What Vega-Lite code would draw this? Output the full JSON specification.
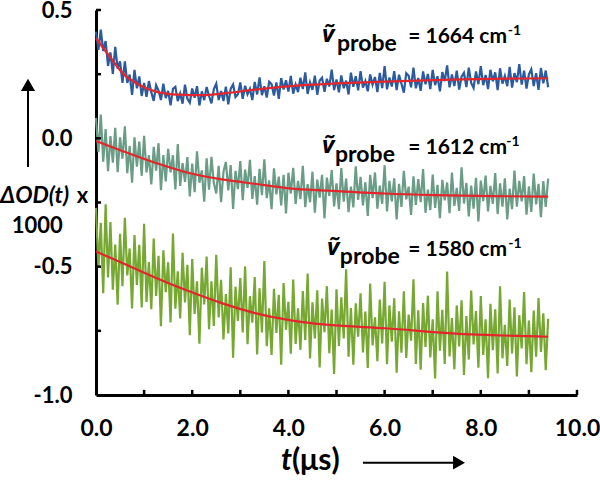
{
  "$schema": "https://vega.github.io/schema/vega-lite/v6.json",
  "width": 481,
  "height": 385,
  "autosize": {"type": "none"},
  "padding": {"left": 96, "top": 10, "right": 23, "bottom": 85},
  "config": {"view": {"stroke": null}, "font": "Lato"},
  "datasets": {
    "traces": [
      {"t":0,"a":0.416,"b":0.080,"c":-0.271},{"t":0.05,"a":0.345,"b":-0.054,"c":-0.505},{"t":0.1,"a":0.424,"b":0.093,"c":-0.329},{"t":0.15,"a":0.340,"b":-0.091,"c":-0.603},{"t":0.2,"a":0.379,"b":0.036,"c":-0.257},
      {"t":0.25,"a":0.282,"b":-0.128,"c":-0.542},{"t":0.3,"a":0.335,"b":0.009,"c":-0.326},{"t":0.35,"a":0.251,"b":-0.095,"c":-0.590},{"t":0.4,"a":0.356,"b":0.041,"c":-0.414},{"t":0.45,"a":0.272,"b":-0.132,"c":-0.648},
      {"t":0.5,"a":0.300,"b":0.004,"c":-0.372},{"t":0.55,"a":0.216,"b":-0.079,"c":-0.576},{"t":0.6,"a":0.300,"b":0.047,"c":-0.310},{"t":0.65,"a":0.216,"b":-0.136,"c":-0.534},{"t":0.7,"a":0.248,"b":-0.030,"c":-0.429},
      {"t":0.75,"a":0.169,"b":-0.173,"c":-0.663},{"t":0.8,"a":0.267,"b":0.004,"c":-0.377},{"t":0.85,"a":0.195,"b":-0.110,"c":-0.571},{"t":0.9,"a":0.241,"b":-0.013,"c":-0.415},{"t":0.95,"a":0.165,"b":-0.146,"c":-0.659},
      {"t":1.0,"a":0.216,"b":0.010,"c":-0.333},{"t":1.05,"a":0.162,"b":-0.133,"c":-0.638},{"t":1.1,"a":0.223,"b":-0.066,"c":-0.482},{"t":1.15,"a":0.179,"b":-0.180,"c":-0.666},{"t":1.2,"a":0.146,"b":-0.033,"c":-0.390},
      {"t":1.25,"a":0.207,"b":-0.126,"c":-0.614},{"t":1.3,"a":0.186,"b":-0.019,"c":-0.458},{"t":1.35,"a":0.149,"b":-0.202,"c":-0.732},{"t":1.4,"a":0.213,"b":-0.065,"c":-0.436},{"t":1.45,"a":0.157,"b":-0.168,"c":-0.599},
      {"t":1.5,"a":0.185,"b":-0.041,"c":-0.483},{"t":1.55,"a":0.129,"b":-0.133,"c":-0.717},{"t":1.6,"a":0.193,"b":-0.066,"c":-0.371},{"t":1.65,"a":0.201,"b":-0.199,"c":-0.664},{"t":1.7,"a":0.145,"b":-0.022,"c":-0.518},
      {"t":1.75,"a":0.175,"b":-0.185,"c":-0.702},{"t":1.8,"a":0.135,"b":-0.097,"c":-0.446},{"t":1.85,"a":0.209,"b":-0.170,"c":-0.639},{"t":1.9,"a":0.154,"b":-0.073,"c":-0.493},{"t":1.95,"a":0.139,"b":-0.226,"c":-0.767},
      {"t":2.0,"a":0.194,"b":-0.098,"c":-0.470},{"t":2.05,"a":0.158,"b":-0.210,"c":-0.684},{"t":2.1,"a":0.203,"b":-0.051,"c":-0.557},{"t":2.15,"a":0.128,"b":-0.173,"c":-0.800},{"t":2.2,"a":0.183,"b":-0.125,"c":-0.504},
      {"t":2.25,"a":0.149,"b":-0.247,"c":-0.647},{"t":2.3,"a":0.200,"b":-0.078,"c":-0.461},{"t":2.35,"a":0.165,"b":-0.200,"c":-0.744},{"t":2.4,"a":0.136,"b":-0.072,"c":-0.557},{"t":2.45,"a":0.192,"b":-0.174,"c":-0.731},
      {"t":2.5,"a":0.213,"b":-0.215,"c":-0.454},{"t":2.55,"a":0.149,"b":-0.107,"c":-0.698},{"t":2.6,"a":0.184,"b":-0.249,"c":-0.551},{"t":2.65,"a":0.145,"b":-0.130,"c":-0.784},{"t":2.7,"a":0.201,"b":-0.092,"c":-0.607},
      {"t":2.75,"a":0.132,"b":-0.203,"c":-0.760},{"t":2.8,"a":0.193,"b":-0.104,"c":-0.502},{"t":2.85,"a":0.210,"b":-0.275,"c":-0.855},{"t":2.9,"a":0.161,"b":-0.127,"c":-0.578},{"t":2.95,"a":0.172,"b":-0.198,"c":-0.711},
      {"t":3.0,"a":0.218,"b":-0.089,"c":-0.544},{"t":3.05,"a":0.154,"b":-0.241,"c":-0.756},{"t":3.1,"a":0.205,"b":-0.122,"c":-0.499},{"t":3.15,"a":0.172,"b":-0.193,"c":-0.802},{"t":3.2,"a":0.193,"b":-0.084,"c":-0.615},
      {"t":3.25,"a":0.149,"b":-0.236,"c":-0.718},{"t":3.3,"a":0.220,"b":-0.147,"c":-0.540},{"t":3.35,"a":0.171,"b":-0.258,"c":-0.842},{"t":3.4,"a":0.237,"b":-0.119,"c":-0.584},{"t":3.45,"a":0.168,"b":-0.221,"c":-0.756},
      {"t":3.5,"a":0.203,"b":-0.082,"c":-0.478},{"t":3.55,"a":0.159,"b":-0.233,"c":-0.810},{"t":3.6,"a":0.220,"b":-0.164,"c":-0.662},{"t":3.65,"a":0.211,"b":-0.276,"c":-0.844},{"t":3.7,"a":0.167,"b":-0.117,"c":-0.586},
      {"t":3.75,"a":0.218,"b":-0.218,"c":-0.758},{"t":3.8,"a":0.154,"b":-0.149,"c":-0.610},{"t":3.85,"a":0.235,"b":-0.261,"c":-0.882},{"t":3.9,"a":0.190,"b":-0.142,"c":-0.564},{"t":3.95,"a":0.226,"b":-0.293,"c":-0.746},
      {"t":4.0,"a":0.182,"b":-0.134,"c":-0.637},{"t":4.05,"a":0.243,"b":-0.215,"c":-0.839},{"t":4.1,"a":0.174,"b":-0.115,"c":-0.550},{"t":4.15,"a":0.210,"b":-0.256,"c":-0.801},{"t":4.2,"a":0.180,"b":-0.166,"c":-0.662},
      {"t":4.25,"a":0.236,"b":-0.237,"c":-0.824},{"t":4.3,"a":0.192,"b":-0.107,"c":-0.595},{"t":4.35,"a":0.257,"b":-0.268,"c":-0.786},{"t":4.4,"a":0.173,"b":-0.178,"c":-0.527},{"t":4.45,"a":0.218,"b":-0.249,"c":-0.858},
      {"t":4.5,"a":0.189,"b":-0.130,"c":-0.639},{"t":4.55,"a":0.244,"b":-0.290,"c":-0.780},{"t":4.6,"a":0.170,"b":-0.161,"c":-0.592},{"t":4.65,"a":0.225,"b":-0.231,"c":-0.893},{"t":4.7,"a":0.236,"b":-0.142,"c":-0.624},
      {"t":4.75,"a":0.181,"b":-0.312,"c":-0.755},{"t":4.8,"a":0.232,"b":-0.153,"c":-0.576},{"t":4.85,"a":0.202,"b":-0.224,"c":-0.837},{"t":4.9,"a":0.268,"b":-0.124,"c":-0.667},{"t":4.95,"a":0.188,"b":-0.265,"c":-0.918},
      {"t":5.0,"a":0.229,"b":-0.175,"c":-0.588},{"t":5.05,"a":0.179,"b":-0.276,"c":-0.809},{"t":5.1,"a":0.245,"b":-0.116,"c":-0.619},{"t":5.15,"a":0.195,"b":-0.247,"c":-0.780},{"t":5.2,"a":0.225,"b":-0.157,"c":-0.510},
      {"t":5.25,"a":0.171,"b":-0.288,"c":-0.851},{"t":5.3,"a":0.256,"b":-0.188,"c":-0.661},{"t":5.35,"a":0.201,"b":-0.269,"c":-0.882},{"t":5.4,"a":0.242,"b":-0.109,"c":-0.643},{"t":5.45,"a":0.187,"b":-0.240,"c":-0.773},
      {"t":5.5,"a":0.262,"b":-0.150,"c":-0.604},{"t":5.55,"a":0.198,"b":-0.261,"c":-0.834},{"t":5.6,"a":0.223,"b":-0.171,"c":-0.675},{"t":5.65,"a":0.183,"b":-0.302,"c":-0.895},{"t":5.7,"a":0.249,"b":-0.142,"c":-0.566},
      {"t":5.75,"a":0.209,"b":-0.233,"c":-0.807},{"t":5.8,"a":0.239,"b":-0.133,"c":-0.697},{"t":5.85,"a":0.180,"b":-0.274,"c":-0.868},{"t":5.9,"a":0.255,"b":-0.184,"c":-0.628},{"t":5.95,"a":0.196,"b":-0.255,"c":-0.799},
      {"t":6.0,"a":0.281,"b":-0.105,"c":-0.559},{"t":6.05,"a":0.191,"b":-0.285,"c":-0.880},{"t":6.1,"a":0.237,"b":-0.166,"c":-0.651},{"t":6.15,"a":0.202,"b":-0.246,"c":-0.792},{"t":6.2,"a":0.262,"b":-0.156,"c":-0.623},
      {"t":6.25,"a":0.188,"b":-0.316,"c":-0.913},{"t":6.3,"a":0.248,"b":-0.177,"c":-0.674},{"t":6.35,"a":0.213,"b":-0.267,"c":-0.835},{"t":6.4,"a":0.178,"b":-0.127,"c":-0.596},{"t":6.45,"a":0.254,"b":-0.238,"c":-0.856},
      {"t":6.5,"a":0.244,"b":-0.188,"c":-0.687},{"t":6.55,"a":0.199,"b":-0.298,"c":-0.788},{"t":6.6,"a":0.275,"b":-0.148,"c":-0.549},{"t":6.65,"a":0.195,"b":-0.259,"c":-0.879},{"t":6.7,"a":0.235,"b":-0.159,"c":-0.670},
      {"t":6.75,"a":0.185,"b":-0.249,"c":-0.901},{"t":6.8,"a":0.261,"b":-0.120,"c":-0.642},{"t":6.85,"a":0.211,"b":-0.290,"c":-0.813},{"t":6.9,"a":0.251,"b":-0.200,"c":-0.613},{"t":6.95,"a":0.192,"b":-0.280,"c":-0.854},
      {"t":7.0,"a":0.267,"b":-0.141,"c":-0.705},{"t":7.05,"a":0.207,"b":-0.271,"c":-0.936},{"t":7.1,"a":0.242,"b":-0.181,"c":-0.596},{"t":7.15,"a":0.183,"b":-0.311,"c":-0.827},{"t":7.2,"a":0.258,"b":-0.162,"c":-0.668},
      {"t":7.25,"a":0.223,"b":-0.242,"c":-0.879},{"t":7.3,"a":0.284,"b":-0.172,"c":-0.519},{"t":7.35,"a":0.199,"b":-0.292,"c":-0.850},{"t":7.4,"a":0.249,"b":-0.133,"c":-0.700},{"t":7.45,"a":0.204,"b":-0.263,"c":-0.900},
      {"t":7.5,"a":0.264,"b":-0.193,"c":-0.651},{"t":7.55,"a":0.190,"b":-0.283,"c":-0.811},{"t":7.6,"a":0.240,"b":-0.113,"c":-0.631},{"t":7.65,"a":0.255,"b":-0.254,"c":-0.922},{"t":7.7,"a":0.200,"b":-0.174,"c":-0.692},
      {"t":7.75,"a":0.275,"b":-0.304,"c":-0.862},{"t":7.8,"a":0.216,"b":-0.184,"c":-0.593},{"t":7.85,"a":0.196,"b":-0.274,"c":-0.803},{"t":7.9,"a":0.261,"b":-0.154,"c":-0.673},{"t":7.95,"a":0.211,"b":-0.324,"c":-0.894},
      {"t":8.0,"a":0.281,"b":-0.165,"c":-0.614},{"t":8.05,"a":0.207,"b":-0.245,"c":-0.844},{"t":8.1,"a":0.247,"b":-0.145,"c":-0.705},{"t":8.15,"a":0.192,"b":-0.285,"c":-0.935},{"t":8.2,"a":0.267,"b":-0.185,"c":-0.645},
      {"t":8.25,"a":0.222,"b":-0.255,"c":-0.825},{"t":8.3,"a":0.257,"b":-0.135,"c":-0.666},{"t":8.35,"a":0.188,"b":-0.295,"c":-0.916},{"t":8.4,"a":0.273,"b":-0.175,"c":-0.576},{"t":8.45,"a":0.213,"b":-0.266,"c":-0.857},
      {"t":8.5,"a":0.243,"b":-0.156,"c":-0.727},{"t":8.55,"a":0.203,"b":-0.316,"c":-0.887},{"t":8.6,"a":0.278,"b":-0.196,"c":-0.628},{"t":8.65,"a":0.198,"b":-0.276,"c":-0.838},{"t":8.7,"a":0.254,"b":-0.126,"c":-0.658},
      {"t":8.75,"a":0.219,"b":-0.266,"c":-0.928},{"t":8.8,"a":0.289,"b":-0.166,"c":-0.689},{"t":8.85,"a":0.209,"b":-0.246,"c":-0.819},{"t":8.9,"a":0.264,"b":-0.147,"c":-0.599},{"t":8.95,"a":0.194,"b":-0.297,"c":-0.880},
      {"t":9.0,"a":0.249,"b":-0.187,"c":-0.710},{"t":9.05,"a":0.269,"b":-0.287,"c":-0.911},{"t":9.1,"a":0.204,"b":-0.137,"c":-0.671},{"t":9.15,"a":0.254,"b":-0.257,"c":-0.851},{"t":9.2,"a":0.189,"b":-0.177,"c":-0.622},
      {"t":9.25,"a":0.274,"b":-0.307,"c":-0.832},{"t":9.3,"a":0.214,"b":-0.167,"c":-0.682},{"t":9.35,"a":0.264,"b":-0.267,"c":-0.903},{"t":9.4,"a":0.199,"b":-0.157,"c":-0.703}
    ],
    "fits": [
      {"s":"a","t":0,"v":0.39},{"s":"a","t":0.3,"v":0.315},{"s":"a","t":0.55,"v":0.255},{"s":"a","t":0.9,"v":0.208},{"s":"a","t":1.25,"v":0.182},{"s":"a","t":1.7,"v":0.17},{"s":"a","t":2.2,"v":0.168},{"s":"a","t":2.7,"v":0.176},{"s":"a","t":3.3,"v":0.19},{"s":"a","t":4.3,"v":0.207},{"s":"a","t":5.0,"v":0.214},{"s":"a","t":6.0,"v":0.221},{"s":"a","t":7.4,"v":0.229},{"s":"a","t":9.4,"v":0.234},
      {"s":"b","t":0,"v":-0.01},{"s":"b","t":0.56,"v":-0.05},{"s":"b","t":1.26,"v":-0.097},{"s":"b","t":1.95,"v":-0.136},{"s":"b","t":2.63,"v":-0.16},{"s":"b","t":3.33,"v":-0.178},{"s":"b","t":4.02,"v":-0.195},{"s":"b","t":4.85,"v":-0.204},{"s":"b","t":6.0,"v":-0.215},{"s":"b","t":7.05,"v":-0.221},{"s":"b","t":8.2,"v":-0.225},{"s":"b","t":9.4,"v":-0.227},
      {"s":"c","t":0,"v":-0.441},{"s":"c","t":0.56,"v":-0.487},{"s":"c","t":1.26,"v":-0.545},{"s":"c","t":1.95,"v":-0.597},{"s":"c","t":2.63,"v":-0.643},{"s":"c","t":3.33,"v":-0.682},{"s":"c","t":4.02,"v":-0.708},{"s":"c","t":4.85,"v":-0.727},{"s":"c","t":6.02,"v":-0.74},{"s":"c","t":7.4,"v":-0.76},{"s":"c","t":9.4,"v":-0.773}
    ],
    "xticks": [
      {"t":1,"v":-1,"v2":-0.98},{"t":2,"v":-1,"v2":-0.98},{"t":3,"v":-1,"v2":-0.98},{"t":4,"v":-1,"v2":-0.98},{"t":5,"v":-1,"v2":-0.98},
      {"t":6,"v":-1,"v2":-0.98},{"t":7,"v":-1,"v2":-0.98},{"t":8,"v":-1,"v2":-0.98},{"t":9,"v":-1,"v2":-0.98},{"t":10,"v":-1,"v2":-0.98}
    ],
    "yticks": [
      {"t":0,"t2":0.105,"v":-0.75},{"t":0,"t2":0.105,"v":-0.5},{"t":0,"t2":0.105,"v":-0.25},{"t":0,"t2":0.105,"v":0},
      {"t":0,"t2":0.105,"v":0.25},{"t":0,"t2":0.105,"v":0.5}
    ],
    "nu": [
      {"t":4.70,"v":0.3753,"txt":"ṽ"},{"t":4.70,"v":-0.0571,"txt":"ṽ"},{"t":4.80,"v":-0.4544,"txt":"ṽ"}
    ],
    "probe": [
      {"t":5.01,"v":0.3403,"txt":"probe"},{"t":4.97,"v":-0.0921,"txt":"probe"},{"t":5.07,"v":-0.4895,"txt":"probe"}
    ],
    "main": [
      {"t":6.49,"v":0.3714,"txt":"= 1664 cm"},{"t":6.49,"v":-0.0610,"txt":"= 1612 cm"},{"t":6.49,"v":-0.4583,"txt":"= 1580 cm"}
    ],
    "sup": [
      {"t":8.56,"v":0.4026,"txt":"-1"},{"t":8.53,"v":-0.0298,"txt":"-1"},{"t":8.57,"v":-0.4272,"txt":"-1"}
    ],
    "arrows": [
      {"t":-1.414,"v":-0.1116,"t2":-1.414,"v2":0.185},
      {"t":5.55,"v":-1.2636,"t2":7.45,"v2":-1.2636}
    ],
    "ytitle_italic": [{"t":-1.996,"v":-0.2519,"txt":"ΔOD(t)"}],
    "ytitle_plain": [{"t":-0.40,"v":-0.2519,"txt":"x"},{"t":-1.75,"v":-0.3687,"txt":"1000"}]
  },
  "layer": [
    {
      "data": {"name": "traces"},
      "transform": [{"fold": ["a", "b", "c"], "as": ["series", "v"]}],
      "mark": {"type": "line", "strokeWidth": 2.2, "clip": false},
      "encoding": {
        "x": {
          "field": "t", "type": "quantitative",
          "scale": {"domain": [0, 10], "nice": false, "zero": false},
          "axis": {
            "title": null,
            "values": [0,1,2,3,4,5,6,7,8,9,10],
            "labelExpr": "datum.value % 2 == 0 ? format(datum.value, '.1f') : ''",
            "grid": false, "ticks": false,
            "domainColor": "black", "domainWidth": 3,
            "labelFont": "Lato", "labelFontWeight": "bold", "labelFontSize": 23, "labelColor": "black",
            "labelPadding": 22, "labelOverlap": false, "labelFlush": false
          }
        },
        "y": {
          "field": "v", "type": "quantitative",
          "scale": {"domain": [-1, 0.5], "nice": false, "zero": false},
          "axis": {
            "title": null,
            "values": [-1, -0.5, 0, 0.5],
            "labelExpr": "replace(format(datum.value, '.1f'), '−', '-')",
            "grid": false, "ticks": false,
            "domainColor": "black", "domainWidth": 3,
            "labelFont": "Lato", "labelFontWeight": "bold", "labelFontSize": 22, "labelColor": "black",
            "labelPadding": 24, "labelOverlap": false, "labelFlush": false
          }
        },
        "color": {
          "field": "series", "type": "nominal",
          "scale": {"domain": ["a", "b", "c"], "range": ["#2c5a9e", "#6a9c86", "#76a832"]},
          "legend": null
        }
      }
    },
    {
      "data": {"name": "fits"},
      "mark": {"type": "line", "color": "#e3262b", "strokeWidth": 2.2, "interpolate": "monotone", "clip": false},
      "encoding": {
        "x": {"field": "t", "type": "quantitative"},
        "y": {"field": "v", "type": "quantitative"},
        "detail": {"field": "s"}
      }
    },
    {
      "data": {"name": "xticks"},
      "mark": {"type": "rule", "color": "black", "strokeWidth": 2.5, "clip": false},
      "encoding": {"x": {"field": "t", "type": "quantitative"}, "y": {"field": "v", "type": "quantitative"}, "y2": {"field": "v2"}}
    },
    {
      "data": {"name": "yticks"},
      "mark": {"type": "rule", "color": "black", "strokeWidth": 2.5, "clip": false},
      "encoding": {"x": {"field": "t", "type": "quantitative"}, "x2": {"field": "t2"}, "y": {"field": "v", "type": "quantitative"}}
    },
    {
      "data": {"name": "nu"},
      "mark": {"type": "text", "font": "Noto Sans", "fontSize": 24, "fontWeight": "bold", "fontStyle": "italic", "align": "left", "baseline": "alphabetic", "color": "black"},
      "encoding": {"x": {"field": "t", "type": "quantitative"}, "y": {"field": "v", "type": "quantitative"}, "text": {"field": "txt"}}
    },
    {
      "data": {"name": "probe"},
      "mark": {"type": "text", "font": "Lato", "fontSize": 23, "fontWeight": "bold", "align": "left", "baseline": "alphabetic", "color": "black"},
      "encoding": {"x": {"field": "t", "type": "quantitative"}, "y": {"field": "v", "type": "quantitative"}, "text": {"field": "txt"}}
    },
    {
      "data": {"name": "main"},
      "mark": {"type": "text", "font": "Lato", "fontSize": 21, "fontWeight": "bold", "align": "left", "baseline": "alphabetic", "color": "black"},
      "encoding": {"x": {"field": "t", "type": "quantitative"}, "y": {"field": "v", "type": "quantitative"}, "text": {"field": "txt"}}
    },
    {
      "data": {"name": "sup"},
      "mark": {"type": "text", "font": "Lato", "fontSize": 14, "fontWeight": "bold", "align": "left", "baseline": "alphabetic", "color": "black"},
      "encoding": {"x": {"field": "t", "type": "quantitative"}, "y": {"field": "v", "type": "quantitative"}, "text": {"field": "txt"}}
    },
    {
      "data": {"name": "ytitle_italic"},
      "mark": {"type": "text", "font": "Lato", "fontSize": 23, "fontWeight": "bold", "fontStyle": "italic", "align": "left", "baseline": "alphabetic", "color": "black"},
      "encoding": {"x": {"field": "t", "type": "quantitative"}, "y": {"field": "v", "type": "quantitative"}, "text": {"field": "txt"}}
    },
    {
      "data": {"name": "ytitle_plain"},
      "mark": {"type": "text", "font": "Lato", "fontSize": 22, "fontWeight": "bold", "align": "left", "baseline": "alphabetic", "color": "black"},
      "encoding": {"x": {"field": "t", "type": "quantitative"}, "y": {"field": "v", "type": "quantitative"}, "text": {"field": "txt"}}
    },
    {
      "data": {"name": "arrows"},
      "mark": {"type": "rule", "color": "black", "strokeWidth": 2, "clip": false},
      "encoding": {
        "x": {"field": "t", "type": "quantitative"}, "y": {"field": "v", "type": "quantitative"},
        "x2": {"field": "t2"}, "y2": {"field": "v2"}
      }
    },
    {
      "data": {"values": [{"t": -1.414, "v": 0.2078}]},
      "mark": {"type": "point", "shape": "triangle-up", "filled": true, "color": "black", "size": 200, "opacity": 1, "clip": false},
      "encoding": {"x": {"field": "t", "type": "quantitative"}, "y": {"field": "v", "type": "quantitative"}}
    },
    {
      "data": {"values": [{"t": 7.547, "v": -1.2636}]},
      "mark": {"type": "point", "shape": "triangle-right", "filled": true, "color": "black", "size": 190, "opacity": 1, "clip": false},
      "encoding": {"x": {"field": "t", "type": "quantitative"}, "y": {"field": "v", "type": "quantitative"}}
    },
    {
      "data": {"values": [{"t": 3.846, "v": -1.292, "txt": "t"}]},
      "mark": {"type": "text", "font": "Lato", "fontSize": 30, "fontWeight": "bold", "fontStyle": "italic", "align": "left", "baseline": "alphabetic", "color": "black"},
      "encoding": {"x": {"field": "t", "type": "quantitative"}, "y": {"field": "v", "type": "quantitative"}, "text": {"field": "txt"}}
    },
    {
      "data": {"values": [{"t": 4.075, "v": -1.292, "txt": "(μs)"}]},
      "mark": {"type": "text", "font": "Lato", "fontSize": 30, "fontWeight": "bold", "align": "left", "baseline": "alphabetic", "color": "black"},
      "encoding": {"x": {"field": "t", "type": "quantitative"}, "y": {"field": "v", "type": "quantitative"}, "text": {"field": "txt"}}
    }
  ]
}
